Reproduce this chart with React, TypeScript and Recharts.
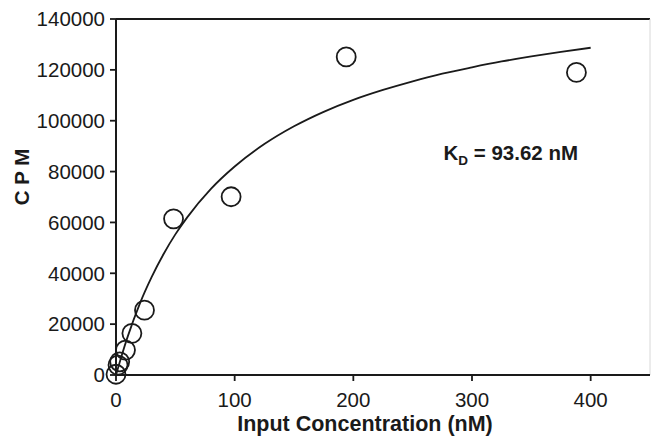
import {
  ComposedChart,
  Line,
  Scatter,
  XAxis,
  YAxis,
  ReferenceLine,
  ReferenceDot,
} from "recharts";

// measured binding points (input nM vs CPM)
const inputConc = [0, 1.7, 3.1, 8, 13.4, 24, 48.5, 97, 194, 388];
const cpmValues = [300, 3900, 5200, 9800, 16400, 25500, 61400, 70100, 125100, 119000];

// fitted saturation curve
const fitConc = [0, 5, 10, 20, 30, 40, 50, 60, 80, 100, 125, 150, 175, 200, 225, 250, 275, 300, 325, 350, 375, 400];
const fitCpm = [0, 8000, 15300, 28000, 38500, 47500, 55300, 62000, 73200, 82000, 90800, 97800, 103500, 108200, 112100, 115500, 118500, 121000, 123300, 125300, 127100, 128700];

const xTicks = [0, 100, 200, 300, 400];
const yTicks = [0, 20000, 40000, 60000, 80000, 100000, 120000, 140000];

const points = inputConc.map((x, i) => ({ x, y: cpmValues[i] }));
const curve = fitConc.map((x, i) => ({ x, y: fitCpm[i] }));

const font = "'Liberation Sans', Arial, Helvetica, sans-serif";
const ink = "#1a1a1a";

const OpenCircle = (props: any) => (
  <circle cx={props.cx} cy={props.cy} r={9.5} fill="none" stroke={ink} strokeWidth={1.8} />
);

const KdNote = (props: any) => (
  <text x={props.cx} y={props.cy} fontFamily={font} fontWeight="bold" fontSize={20.5} fill={ink}>
    K
    <tspan fontSize={13.5} dy={5}>D</tspan>
    <tspan dy={-5}> = 93.62 nM</tspan>
  </text>
);

export default function App() {
  return (
    <div style={{ position: "absolute", left: 0, top: 0, background: "#fff" }}>
      <ComposedChart
        width={651}
        height={436}
        margin={{ top: 19, right: 1, bottom: 0, left: 0 }}
        style={{ fontFamily: font }}
      >
        <XAxis
          type="number"
          dataKey="x"
          domain={[0, 450]}
          ticks={xTicks}
          height={61}
          tickSize={6}
          tickMargin={11}
          axisLine={{ stroke: ink, strokeWidth: 2 }}
          tickLine={{ stroke: ink, strokeWidth: 1.8 }}
          tick={{ fill: ink, fontSize: 20.5, fontFamily: font }}
          label={{
            value: "Input Concentration (nM)",
            position: "center",
            dx: -18,
            dy: 17.5,
            fill: ink,
            fontSize: 21.5,
            fontWeight: "bold",
            fontFamily: font,
          }}
        />
        <YAxis
          type="number"
          domain={[0, 140000]}
          ticks={yTicks}
          width={116}
          tickSize={6}
          tickMargin={5}
          axisLine={{ stroke: ink, strokeWidth: 2 }}
          tickLine={{ stroke: ink, strokeWidth: 1.8 }}
          tick={{ fill: ink, fontSize: 20.5, fontFamily: font }}
          label={{
            value: "C P M",
            position: "center",
            angle: -90,
            dx: -36.5,
            dy: -20,
            fill: ink,
            fontSize: 20.5,
            fontWeight: "bold",
            fontFamily: font,
          }}
        />
        <ReferenceLine y={140000} stroke={ink} strokeWidth={2} />
        <ReferenceLine x={450} stroke="#d8d8d8" strokeWidth={1} />
        <Line
          data={curve}
          dataKey="y"
          type="monotone"
          stroke={ink}
          strokeWidth={1.8}
          dot={false}
          activeDot={false}
          isAnimationActive={false}
        />
        <Scatter data={points} dataKey="y" shape={OpenCircle} isAnimationActive={false} />
        <ReferenceDot x={276} y={84500} r={0} shape={KdNote} />
      </ComposedChart>
    </div>
  );
}
